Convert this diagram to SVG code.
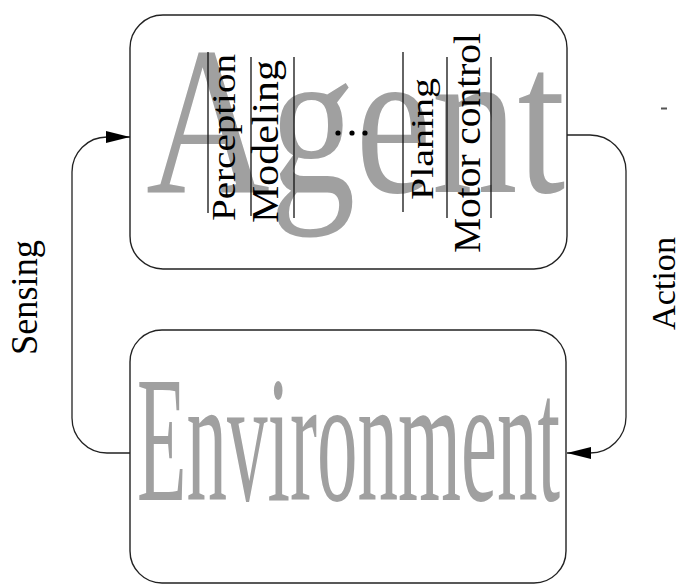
<svg xmlns="http://www.w3.org/2000/svg" width="684" height="584" viewBox="0 0 684 584">
  <style>
    .box { fill: #ffffff; stroke: #222222; stroke-width: 1.4; }
    .big { fill: #a0a0a0; }
    .lbl { fill: #000000; }
    text { font-family: 'Liberation Serif', 'Times New Roman', Times, serif; }
    .sep { stroke: #111111; stroke-width: 1.3; }
    .conn { fill: none; stroke: #222222; stroke-width: 1.3; }
  </style>
  <defs>
    <marker id="arrow" viewBox="0 0 24 12" refX="24" refY="6" markerWidth="24" markerHeight="12" markerUnits="userSpaceOnUse" orient="auto">
      <path d="M0,0 L24,6 L0,12 Z" fill="#000000"/>
    </marker>
  </defs>
  <rect width="684" height="584" fill="#ffffff"/>

  <g id="agent">
    <rect class="box" x="130" y="15" width="437" height="254" rx="33" ry="33"/>
    <text class="big" transform="translate(146,192) scale(0.809,1)" x="0" y="0" font-size="212">Agent</text>
    <line class="sep" x1="208" y1="52" x2="208" y2="213"/>
    <line class="sep" x1="251" y1="57" x2="251" y2="216"/>
    <line class="sep" x1="294" y1="57" x2="294" y2="218"/>
    <line class="sep" x1="403" y1="52" x2="403" y2="212"/>
    <line class="sep" x1="447" y1="57" x2="447" y2="218"/>
    <line class="sep" x1="491" y1="57" x2="491" y2="218"/>
    <text class="lbl" transform="translate(235,221) rotate(-90)" font-size="33" textLength="167" lengthAdjust="spacingAndGlyphs">Perception</text>
    <text class="lbl" transform="translate(278,223) rotate(-90)" font-size="37" textLength="163" lengthAdjust="spacingAndGlyphs">Modeling</text>
    <text class="lbl" transform="translate(433,200) rotate(-90)" font-size="32" textLength="122" lengthAdjust="spacingAndGlyphs">Planing</text>
    <text class="lbl" transform="translate(480,253) rotate(-90)" font-size="38" textLength="220" lengthAdjust="spacingAndGlyphs">Motor control</text>
    <circle cx="338" cy="133" r="2.6" fill="#000000"/>
    <circle cx="352" cy="133" r="2.6" fill="#000000"/>
    <circle cx="365" cy="133" r="2.6" fill="#000000"/>
  </g>

  <g id="environment">
    <rect class="box" x="130" y="330" width="436" height="253" rx="32" ry="32"/>
    <text class="big" transform="translate(137,500) scale(0.4476,1)" x="0" y="0" font-size="181">Environment</text>
  </g>

  <g id="connectors">
    <path class="conn" d="M130,453 H107 A35,35 0 0 1 72,418 V172 A35,35 0 0 1 107,137 H130" marker-end="url(#arrow)"/>
    <path class="conn" d="M567,135 H590 A36,36 0 0 1 626,171 V417 A36,36 0 0 1 590,453 H567" marker-end="url(#arrow)"/>
    <text class="lbl" transform="translate(37,355) rotate(-90)" font-size="38" textLength="115" lengthAdjust="spacingAndGlyphs">Sensing</text>
    <text class="lbl" transform="translate(675,330) rotate(-90)" font-size="33" textLength="93" lengthAdjust="spacingAndGlyphs">Action</text>
    <line x1="661" y1="108.5" x2="667" y2="108.5" stroke="#555555" stroke-width="2"/>
  </g>
</svg>
